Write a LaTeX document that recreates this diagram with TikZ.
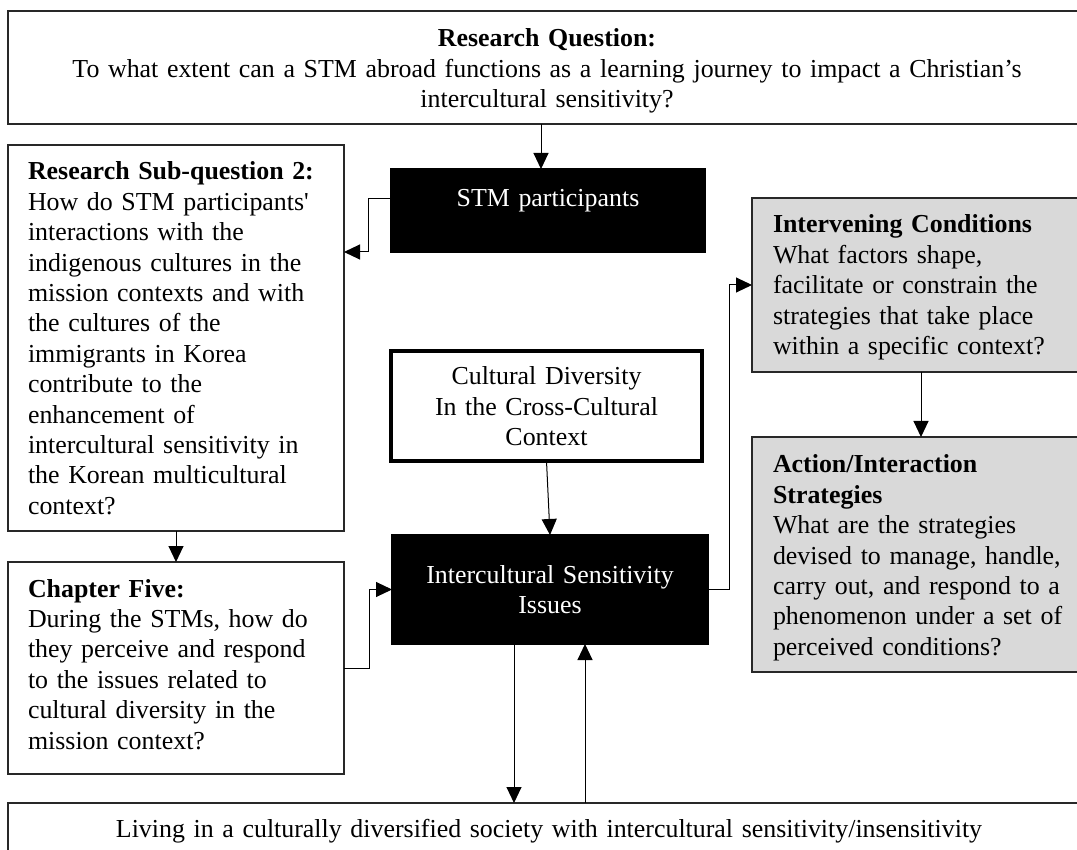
\documentclass[tikz,border=0pt]{standalone}
\usepackage{fontspec}
\setmainfont{Liberation Serif}
\usetikzlibrary{arrows.meta}
\definecolor{panelgray}{RGB}{217,217,217}
\definecolor{rulecol}{RGB}{40,40,40}
\begin{document}
\begin{tikzpicture}[x=0.5pt,y=-0.5pt,
  every node/.style={font=\fontsize{12.95pt}{15.2pt}\selectfont,
    inner sep=0pt, outer sep=0pt, anchor=north west},
  plain/.style={draw=rulecol, line width=0.6pt, fill=white},
  dark/.style={draw=black, line width=0.6pt, fill=black, text=white, align=center},
  shaded/.style={draw=rulecol, line width=0.6pt, fill=panelgray, align=left},
  heavy/.style={draw=black, line width=2pt, fill=white, align=center},
  arr/.style={-{Triangle[length=8pt,width=7.5pt]}, line width=0.5pt, draw=black}]

\clip (0,0) rectangle (1077,850);

% research question banner
\node[plain, align=center, text width=539pt, text height=18pt, text depth=38.5pt]
  (rq) at (8,11)
  {\textbf{Research Question:}\\
   To what extent can a STM abroad functions as a learning journey to impact a Christian’s\\
   intercultural sensitivity?};

% central column
\node[dark, text width=157pt, text height=19pt, text depth=22.5pt]
  (stm) at (391,169) {STM participants};

\node[heavy, text width=155.5pt, text height=17pt, text depth=38pt]
  (cd) at (391,351) {Cultural Diversity\\In the Cross-Cultural\\Context};

\node[dark, text width=158pt, text height=24pt, text depth=30.5pt]
  (isi) at (392,535) {Intercultural Sensitivity\\Issues};

% left column
\node[plain, align=left, inner xsep=10pt, text width=148pt, text height=17.5pt, text depth=175.5pt]
  (subq) at (8,145)
  {\textbf{Research Sub-question 2:}\\
   How do STM participants\textquotesingle\\
   interactions with the\\
   indigenous cultures in the\\
   mission contexts and with\\
   the cultures of the\\
   immigrants in Korea\\
   contribute to the\\
   enhancement of\\
   intercultural sensitivity in\\
   the Korean multicultural\\
   context?};

\node[plain, align=left, inner xsep=10pt, text width=148pt, text height=17.5pt, text depth=88.5pt]
  (ch5) at (8,562)
  {\textbf{Chapter Five:}\\
   During the STMs, how do\\
   they perceive and respond\\
   to the issues related to\\
   cultural diversity in the\\
   mission context?};

% right column
\node[shaded, inner xsep=10.5pt, text width=148pt, text height=17.5pt, text depth=69.5pt]
  (ic) at (752,198)
  {\textbf{Intervening Conditions}\\
   What factors shape,\\
   facilitate or constrain the\\
   strategies that take place\\
   within a specific context?};

\node[shaded, inner xsep=10.5pt, text width=148pt, text height=18pt, text depth=99.5pt]
  (ais) at (752,437)
  {\textbf{Action/Interaction}\\
   \textbf{Strategies}\\
   What are the strategies\\
   devised to manage, handle,\\
   carry out, and respond to a\\
   phenomenon under a set of\\
   perceived conditions?};

% bottom banner
\node[plain, align=center, text width=541pt, text height=17pt, text depth=33pt]
  (bot) at (8,803)
  {Living in a culturally diversified society with intercultural sensitivity/insensitivity};

% connectors
\coordinate (stmin) at ([xshift=-3.5pt]stm.north);
\draw[arr] (stmin |- rq.south) -- (stmin);

\draw[arr] ([yshift=5.75pt]stm.west) -- ++(-23,0) |- (subq.east |- stm.south);
\draw[arr] (subq.south) -- (ch5.north);
\draw[arr] (ch5.east) -- ++(25,0) |- (isi.west);
\draw[arr] (cd.south) -- (isi.north);
\draw[arr] (isi.east) -- ++(21,0) |- (ic.west);
\draw[arr] (ic.south) -- (ais.north);

\coordinate (isidown) at ([xshift=-18pt]isi.south);
\coordinate (isiup) at ([xshift=17.5pt]isi.south);
\draw[arr] (isidown) -- (isidown |- bot.north);
\draw[arr] (isiup |- bot.north) -- (isiup);

\end{tikzpicture}
\end{document}
